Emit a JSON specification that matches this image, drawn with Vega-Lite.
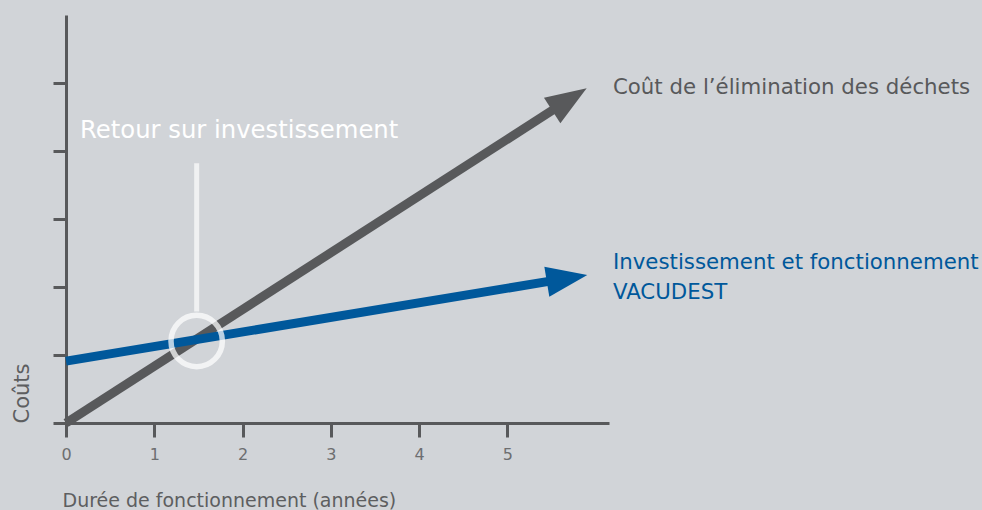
{
  "$schema": "https://vega.github.io/schema/vega-lite/v6.json",
  "width": 543,
  "height": 408,
  "autosize": {"type": "none"},
  "padding": {"left": 66, "top": 15, "right": 373, "bottom": 87},
  "background": "#d1d4d8",
  "config": {
    "view": {"stroke": null},
    "font": "DejaVu Sans",
    "axis": {"grid": false, "domainColor": "#58595b", "domainWidth": 3, "tickColor": "#58595b", "tickWidth": 3, "labelColor": "#6d6e70", "labelFont": "DejaVu Sans", "titleFont": "DejaVu Sans", "titleFontWeight": "normal", "titleColor": "#5d5e60"}
  },
  "datasets": {
    "lines": [
      {"series": "Coût", "x": 0, "y": 0},
      {"series": "Coût", "x": 5.61, "y": 4.684},
      {"series": "Invest", "x": 0, "y": 0.91},
      {"series": "Invest", "x": 5.569, "y": 2.104}
    ],
    "labels": [
      {"series": "Coût", "label": "Coût de l’élimination des déchets", "x": 6.195, "y": 4.84},
      {"series": "Invest", "label": "Investissement et fonctionnement", "x": 6.195, "y": 2.26},
      {"series": "Invest", "label": "VACUDEST", "x": 6.195, "y": 1.82}
    ]
  },
  "layer": [
    {
      "data": {"name": "lines"},
      "mark": {"type": "line", "strokeWidth": 9, "strokeCap": "butt"},
      "encoding": {
        "x": {"field": "x", "type": "quantitative", "scale": {"domain": [0, 6.15], "nice": false, "zero": false},
          "axis": {"values": [0, 1, 2, 3, 4, 5], "format": "d", "tickSize": 14, "labelFontSize": 16, "labelPadding": 9, "labelFlush": false,
            "title": "Durée de fonctionnement (années)", "titleFontSize": 19, "titleAnchor": "start", "titleAlign": "left", "titleX": -4, "titleY": 83, "titleBaseline": "alphabetic"}},
        "y": {"field": "y", "type": "quantitative", "scale": {"domain": [0, 6], "nice": false},
          "axis": {"values": [0, 1, 2, 3, 4, 5], "labels": false, "tickSize": 13, "title": "Coûts", "titleFontSize": 21, "titleAngle": 270, "titleX": -38, "titleY": 408, "titleAlign": "left", "titleBaseline": "alphabetic"}},
        "color": {"field": "series", "type": "nominal", "scale": {"domain": ["Coût", "Invest"], "range": ["#58595b", "#00589b"]}, "legend": null},
        "detail": {"field": "series"}
      }
    },
    {
      "data": {"values": [{"series": "Coût", "x": 5.897, "y": 4.922}]},
      "mark": {"type": "point", "shape": "M0,0L-2,-0.74L-2,0.74Z", "filled": true, "size": 1681, "angle": -32.7, "opacity": 1},
      "encoding": {
        "x": {"field": "x", "type": "quantitative"},
        "y": {"field": "y", "type": "quantitative"},
        "color": {"field": "series", "type": "nominal", "legend": null}
      }
    },
    {
      "data": {"values": [{"series": "Invest", "x": 5.904, "y": 2.176}]},
      "mark": {"type": "point", "shape": "M0,0L-2,-0.74L-2,0.74Z", "filled": true, "size": 1681, "angle": -9.4, "opacity": 1},
      "encoding": {
        "x": {"field": "x", "type": "quantitative"},
        "y": {"field": "y", "type": "quantitative"},
        "color": {"field": "series", "type": "nominal", "legend": null}
      }
    },
    {
      "data": {"values": [{"x": 1.48, "y": 3.82, "y2": 1.64}]},
      "mark": {"type": "rule", "color": "#f0f1f2", "strokeWidth": 5},
      "encoding": {
        "x": {"field": "x", "type": "quantitative"},
        "y": {"field": "y", "type": "quantitative"},
        "y2": {"field": "y2"}
      }
    },
    {
      "data": {"values": [{"x": 1.48, "y": 1.206}]},
      "mark": {"type": "point", "shape": "circle", "filled": false, "stroke": "#ffffff", "strokeWidth": 5.5, "strokeOpacity": 0.72, "size": 2640, "opacity": 1},
      "encoding": {
        "x": {"field": "x", "type": "quantitative"},
        "y": {"field": "y", "type": "quantitative"}
      }
    },
    {
      "data": {"values": [{"label": "Retour sur investissement", "x": 0.159, "y": 4.19}]},
      "mark": {"type": "text", "align": "left", "baseline": "alphabetic", "font": "DejaVu Sans", "fontSize": 24.3, "color": "#ffffff"},
      "encoding": {
        "x": {"field": "x", "type": "quantitative"},
        "y": {"field": "y", "type": "quantitative"},
        "text": {"field": "label"}
      }
    },
    {
      "data": {"name": "labels"},
      "mark": {"type": "text", "align": "left", "baseline": "alphabetic", "font": "DejaVu Sans", "fontSize": 21.3},
      "encoding": {
        "x": {"field": "x", "type": "quantitative"},
        "y": {"field": "y", "type": "quantitative"},
        "text": {"field": "label"},
        "color": {"field": "series", "type": "nominal", "legend": null}
      }
    }
  ]
}
